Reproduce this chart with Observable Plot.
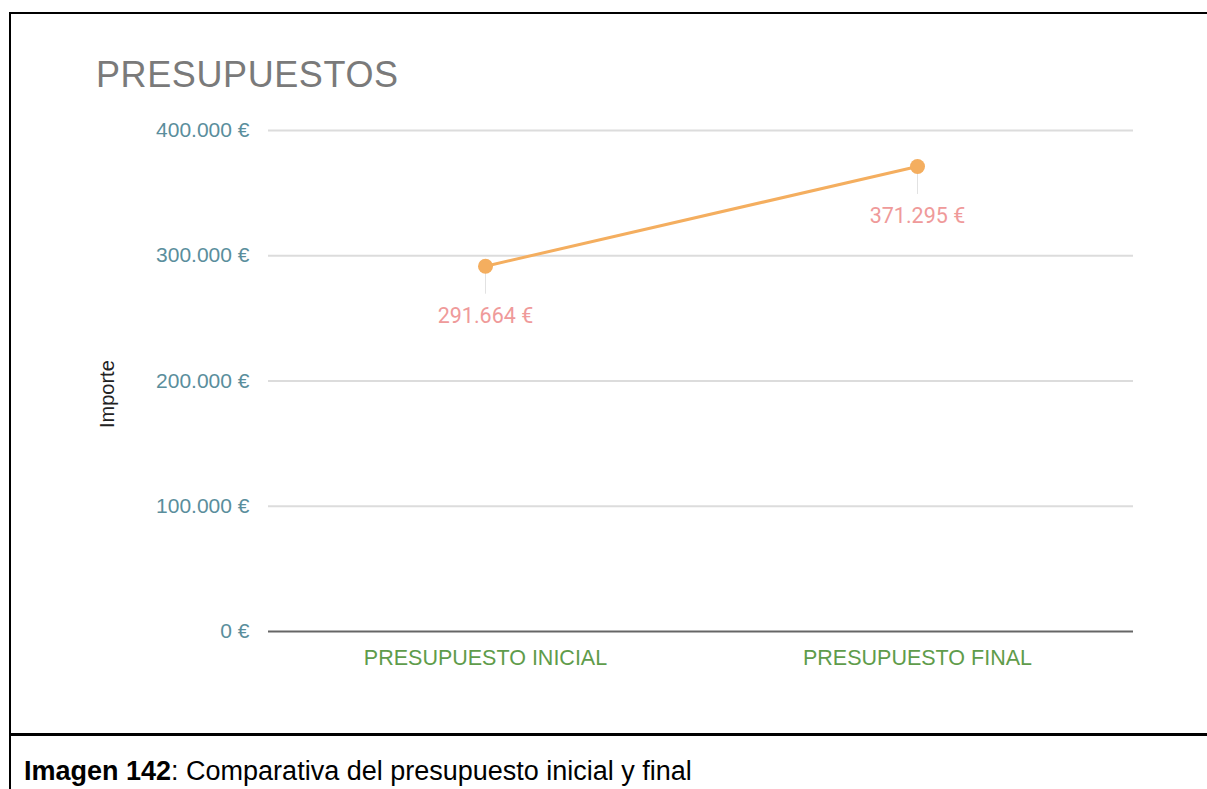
<!DOCTYPE html>
<html>
<head>
<meta charset="utf-8">
<script src="https://cdn.jsdelivr.net/npm/d3@7"></script>
<script src="https://cdn.jsdelivr.net/npm/@observablehq/plot@0.6"></script>
<style>
  html, body { margin: 0; padding: 0; background: #fff; }
  body { width: 1207px; height: 789px; position: relative; overflow: hidden; font-family: "Liberation Sans", Arial, sans-serif; }
  .frame { position: absolute; left: 9px; top: 12px; width: 1300px; height: 820px; border-left: 2px solid #000; border-top: 2px solid #000; }
  .sep { position: absolute; left: 9px; top: 733px; width: 1300px; height: 0; border-top: 3px solid #000; }
  .title { position: absolute; left: 96px; top: 54px; font-size: 36px; color: #7a7a7a; line-height: 42px; letter-spacing: 0.6px; }
  .caption { position: absolute; left: 24px; top: 756px; font-size: 27px; line-height: 30px; color: #000; }
  #chart { position: absolute; left: 0; top: 100px; }
</style>
</head>
<body>
<div class="frame"></div>
<div class="sep"></div>
<div class="title">PRESUPUESTOS</div>
<div id="chart"></div>
<div class="caption"><b>Imagen 142</b>: Comparativa del presupuesto inicial y final</div>
<script>
// Budget categories and amounts (euros)
const categories = ["PRESUPUESTO INICIAL", "PRESUPUESTO FINAL"];
const amounts = [291664, 371295];
const yTicks = [0, 100000, 200000, 300000, 400000];

const data = categories.map((c, i) => ({categoria: c, importe: amounts[i]}));

// Spanish-style number format: dot as thousands separator, euro suffix
const euro = d => d3.format(",")(d).replace(/,/g, ".") + " €";

const chart = Plot.plot({
  width: 1207,
  height: 600,
  marginLeft: 268,
  marginRight: 74,
  marginTop: 30,
  marginBottom: 69,
  style: {fontFamily: "Liberation Sans, Arial, sans-serif", fontSize: "21px", background: "transparent"},
  x: {type: "point", domain: categories, padding: 0.5, axis: null},
  y: {domain: [0, 400000], axis: null},
  marks: [
    Plot.gridY(yTicks.filter(d => d > 0), {stroke: "#dcdcdc", strokeWidth: 2, strokeOpacity: 1}),
    Plot.ruleY([0], {stroke: "#666", strokeWidth: 2}),
    Plot.axisY({
      ticks: yTicks, tickFormat: euro, tickSize: 0, tickPadding: 19,
      color: "#5a8e9c", fontSize: 21, label: null
    }),
    // Vertical axis title
    Plot.text(["Importe"], {frameAnchor: "left", rotate: -90, dx: -161, dy: 47, fill: "#222", fontSize: 20}),
    Plot.axisX({tickSize: 0, tickPadding: 18, color: "#5f9c4b", fontSize: 21.5, label: null}),
    Plot.ruleX(data, {x: "categoria", y1: "importe", y2: "importe", insetTop: 0, insetBottom: -28, stroke: "#e2e2e2", strokeWidth: 1}),
    Plot.line(data, {x: "categoria", y: "importe", stroke: "#f4ae5f", strokeWidth: 3}),
    Plot.dot(data, {x: "categoria", y: "importe", r: 7.5, fill: "#f4ae5f"}),
    Plot.text(data, {x: "categoria", y: "importe", text: d => euro(d.importe), dy: 50, fill: "#ef9a9a", fontSize: 21.5, fontFamily: "Roboto, sans-serif"})
  ]
});
document.getElementById("chart").append(chart);
</script>
</body>
</html>
